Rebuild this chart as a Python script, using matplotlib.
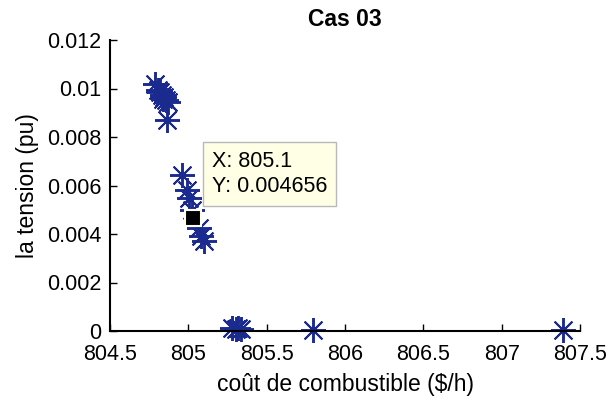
import matplotlib
matplotlib.use("Agg")
import matplotlib.pyplot as plt

plt.rcParams['font.family'] = ['Liberation Sans', 'DejaVu Sans']

# front points: fuel cost vs voltage deviation
cout = [804.787, 804.806, 804.819, 804.832, 804.845, 804.857, 804.870, 804.838, 804.864,
        804.960, 804.991, 805.004, 805.023, 805.068, 805.081, 805.100,
        805.279, 805.304, 805.317, 805.336, 805.796, 807.39]
tension = [0.01019, 0.00994, 0.00986, 0.00973, 0.00965, 0.00953, 0.00944, 0.00957, 0.00870,
           0.00643, 0.00581, 0.00548, 0.00499, 0.00425, 0.00392, 0.00371,
           0.00012, 0.00008, 0.00012, 0.00008, 0.00005, 0.00004]

# selected point (data tip)
tip_x = 805.03
tip_y = 0.004656
tip_text = "X: 805.1\nY: 0.004656"

xticks = [804.5, 805, 805.5, 806, 806.5, 807, 807.5]
xlabels = ["804.5", "805", "805.5", "806", "806.5", "807", "807.5"]
yticks = [0, 0.002, 0.004, 0.006, 0.008, 0.01, 0.012]
ylabels = ["0", "0.002", "0.004", "0.006", "0.008", "0.01", "0.012"]

fig = plt.figure(figsize=(6.08, 4.0), dpi=100)
ax = fig.add_axes([0.181, 0.1725, 0.773, 0.7275])

ax.plot(cout, tension, linestyle='none', marker=(8, 2, 0), markersize=18,
        markeredgewidth=1.4, color='#1b2a8e', clip_on=False)
ax.plot([tip_x], [tip_y], linestyle='none', marker='s', markersize=11,
        markerfacecolor='black', markeredgecolor='#fffff0', markeredgewidth=1.5)
ax.text(805.15, 0.00551, tip_text, fontsize=15.5, ha='left', va='bottom',
        linespacing=1.3,
        bbox=dict(boxstyle='square,pad=0.4', facecolor='#ffffe6', edgecolor='#b8b8b8', linewidth=1))

ax.set_xlim(804.5, 807.5)
ax.set_ylim(0, 0.012)
ax.set_xticks(xticks)
ax.set_xticklabels(xlabels)
ax.set_yticks(yticks)
ax.set_yticklabels(ylabels)
ax.tick_params(direction='in', length=5, width=1, labelsize=15.5)
ax.tick_params(axis='x', pad=9)
ax.tick_params(axis='y', pad=6)
ax.spines['top'].set_visible(False)
ax.spines['right'].set_visible(False)
ax.spines['left'].set_linewidth(1.5)
ax.spines['bottom'].set_linewidth(1.5)

ax.set_xlabel("coût de combustible (\\$/h)", fontsize=16.5, labelpad=6)
ax.set_ylabel("la tension (pu)", fontsize=16.5, labelpad=6)
ax.set_title("Cas 03", fontsize=16.5, fontweight='bold', pad=10)

fig.savefig("out.png", dpi=100)
